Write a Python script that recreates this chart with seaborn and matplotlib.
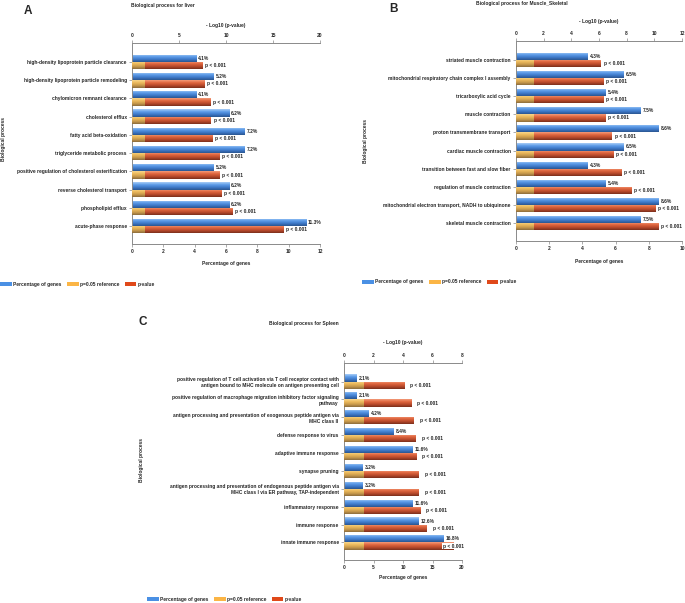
import numpy as np
import pandas as pd
import matplotlib
matplotlib.use("Agg")
import matplotlib.pyplot as plt
import seaborn as sns
from matplotlib.colors import LinearSegmentedColormap
from matplotlib.patches import Patch

sns.set_theme(style="white")
plt.rcParams['font.family'] = ['Liberation Sans', 'DejaVu Sans']
plt.rcParams['font.weight'] = 'bold'

# ---------------- data ----------------
liver_terms = [
    "high-density lipoprotein particle clearance",
    "high-density lipoprotein particle remodeling",
    "chylomicron remnant clearance",
    "cholesterol efflux",
    "fatty acid beta-oxidation",
    "triglyceride metabolic process",
    "positive regulation of cholesterol esterification",
    "reverse cholesterol transport",
    "phospholipid efflux",
    "acute-phase response",
]
liver_pct = [4.1, 5.2, 4.1, 6.2, 7.2, 7.2, 5.2, 6.2, 6.2, 11.3]
liver_logp = [7.48, 7.66, 8.37, 8.40, 8.54, 9.26, 9.26, 9.54, 10.67, 16.10]
liver_plabels = ["p < 0.001"] * 10
liver_pct_ticks = [0, 2, 4, 6, 8, 10, 12]
liver_logp_ticks = [0, 5, 10, 15, 20]

muscle_terms = [
    "striated muscle contraction",
    "mitochondrial respiratory chain complex I assembly",
    "tricarboxylic acid cycle",
    "muscle contraction",
    "proton transmembrane transport",
    "cardiac muscle contraction",
    "transition between fast and slow fiber",
    "regulation of muscle contraction",
    "mitochondrial electron transport, NADH to ubiquinone",
    "skeletal muscle contraction",
]
muscle_pct = [4.3, 6.5, 5.4, 7.5, 8.6, 6.5, 4.3, 5.4, 8.6, 7.5]
muscle_logp = [6.14, 6.29, 6.34, 6.48, 6.93, 7.03, 7.60, 8.35, 10.10, 10.27]
muscle_plabels = ["p < 0.001"] * 10
muscle_pct_ticks = [0, 2, 4, 6, 8, 10]
muscle_logp_ticks = [0, 2, 4, 6, 8, 10, 12]

spleen_terms = [
    "positive regulation of T cell activation via T cell receptor contact with\nantigen bound to MHC molecule on antigen presenting cell",
    "positive regulation of macrophage migration inhibitory factor signaling\npathway",
    "antigen processing and presentation of exogenous peptide antigen via\nMHC class II",
    "defense response to virus",
    "adaptive immune response",
    "synapse pruning",
    "antigen processing and presentation of endogenous peptide antigen via\nMHC class I via ER pathway, TAP-independent",
    "inflammatory response",
    "immune response",
    "innate immune response",
]
spleen_pct = [2.1, 2.1, 4.2, 8.4, 11.6, 3.2, 3.2, 11.6, 12.6, 16.8]
spleen_logp = [4.07, 4.55, 4.73, 4.87, 4.89, 5.07, 5.07, 5.16, 5.62, 7.43]
spleen_plabels = ["p < 0.001"] * 10
spleen_pct_ticks = [0, 5, 10, 15, 20]
spleen_logp_ticks = [0, 2, 4, 6, 8]

ref_logp = -np.log10(0.05)  # p = 0.05 reference

legend_labels = ["Percentage of genes", "p=0.05 reference", "p-value"]

# ---------------- style ----------------
W, H, DPI = 685, 603, 100
FS = 3.5
GRAY = "#8a8a8a"
blue_cmap = LinearSegmentedColormap.from_list("b", ["#a9cdf7", "#5d9ce8", "#3d78c8", "#2a558f"])
red_cmap = LinearSegmentedColormap.from_list("r", ["#f39b7a", "#e0663f", "#b94a2b", "#7a2e1c"])
yel_cmap = LinearSegmentedColormap.from_list("y", ["#f9d78e", "#ecba5c", "#c99a4c", "#8c6c3c"])
leg_colors = ["#4a90e4", "#fbb545", "#e0491a"]

fig = plt.figure(figsize=(W / DPI, H / DPI), dpi=DPI)
fig.patch.set_facecolor("white")

grad = np.linspace(0, 1, 64).reshape(-1, 1)


def fx(px):
    return px / W


def fy(py):
    return 1 - py / H


def shade(axis, patches, cmap, z):
    for p in patches:
        p.set_zorder(z)
        x, w, y, h = p.get_x(), p.get_width(), p.get_y(), p.get_height()
        im = axis.imshow(grad, cmap=cmap, aspect="auto", origin="upper",
                         extent=[x, x + w, y + h, y], zorder=z + 0.05,
                         interpolation="bilinear")
        im.set_clip_path(p)


all_texts = []


def panel(rect, terms, pct, logp, plabels, pct_ticks, logp_ticks,
          title, title_xy, letter, letter_xy, top_lab_y, bot_lab_y,
          ylab_xy, legend_xy, poff=2.0):
    x0, y0, x1, y1 = rect
    ax = fig.add_axes([fx(x0), fy(y1), (x1 - x0) / W, (y1 - y0) / H])
    ax2 = ax.twiny()
    n = len(terms)
    pos = np.arange(n)
    df_pct = pd.DataFrame({"pos": pos - 0.2, "value": pct})
    df_p = pd.DataFrame({"pos": pos + 0.2, "value": logp, "ref": [ref_logp] * n})

    sns.barplot(data=df_pct, x="value", y="pos", orient="y", native_scale=True,
                width=0.4, color=leg_colors[0], saturation=1, errorbar=None,
                ax=ax, linewidth=0)
    sns.barplot(data=df_p, x="value", y="pos", orient="y", native_scale=True,
                width=0.4, color=leg_colors[2], saturation=1, errorbar=None,
                ax=ax2, linewidth=0)
    nred = len(ax2.patches)
    sns.barplot(data=df_p, x="ref", y="pos", orient="y", native_scale=True,
                width=0.4, color=leg_colors[1], saturation=1, errorbar=None,
                ax=ax2, linewidth=0)
    shade(ax, list(ax.patches), blue_cmap, 1.0)
    shade(ax2, list(ax2.patches)[:nred], red_cmap, 1.0)
    shade(ax2, list(ax2.patches)[nred:], yel_cmap, 1.5)

    ax.set_xlim(pct_ticks[0], pct_ticks[-1])
    ax2.set_xlim(logp_ticks[0], logp_ticks[-1])
    ax.set_ylim(n - 0.02, -1.04)

    # ticks
    ax.set_xticks(pct_ticks)
    ax.set_xticklabels([str(t) for t in pct_ticks])
    ax2.set_xticks(logp_ticks)
    ax2.set_xticklabels([str(t) for t in logp_ticks])
    ax.set_yticks(pos)
    ax.set_yticklabels(terms)
    for a in (ax, ax2):
        a.grid(False)
        a.tick_params(axis="both", labelsize=FS, length=2.2, width=0.5,
                      color=GRAY, pad=1.6, direction="out")
        for s in a.spines.values():
            s.set_visible(False)
            s.set_color(GRAY)
            s.set_linewidth(0.7)
    ax.tick_params(axis="x", bottom=True, top=False)
    ax.tick_params(axis="y", left=True, right=False)
    ax2.tick_params(axis="x", top=True, bottom=False)
    ax.spines["left"].set_visible(True)
    ax.spines["bottom"].set_visible(True)
    ax2.spines["top"].set_visible(True)
    for lab in ax.get_xticklabels() + ax.get_yticklabels() + ax2.get_xticklabels():
        lab.set_fontweight("bold")
    ax.patch.set_alpha(0)

    # axis labels
    ax.set_xlabel("Percentage of genes", fontsize=FS, fontweight="bold", va="center")
    ax.xaxis.set_label_coords(0.5, (y1 - bot_lab_y) / (y1 - y0))
    ax2.set_xlabel("- Log10 (p-value)", fontsize=FS, fontweight="bold", va="center")
    ax2.xaxis.set_label_coords(0.5, (y1 - top_lab_y) / (y1 - y0))
    ax.set_ylabel("Biological process", fontsize=FS, fontweight="bold", va="center")
    ax.yaxis.set_label_coords((ylab_xy[0] - x0) / (x1 - x0), (y1 - ylab_xy[1]) / (y1 - y0))

    # value labels
    bb = dict(boxstyle="square,pad=0.15", fc="white", ec="none")
    for i in range(n):
        t1 = ax.annotate(f"{pct[i]:.1f}%", xy=(pct[i], pos[i] - 0.2), xytext=(1.5, 0),
                         textcoords="offset points", ha="left", va="center",
                         fontsize=FS, fontweight="bold", bbox=bb, zorder=5,
                         annotation_clip=False)
        t2 = ax2.annotate(plabels[i], xy=(logp[i], pos[i] + 0.2), xytext=(poff, 0),
                          textcoords="offset points", ha="left", va="center",
                          fontsize=FS, fontweight="bold", bbox=bb, zorder=5,
                          annotation_clip=False)
        all_texts.append((ax, t1))
        all_texts.append((ax2, t2))

    fig.text(fx(title_xy[0]), fy(title_xy[1]), title, fontsize=FS, fontweight="bold",
             ha="center", va="center")
    fig.text(fx(letter_xy[0]), fy(letter_xy[1]), letter, fontsize=8.5, fontweight="bold",
             ha="center", va="center")

    handles = [Patch(facecolor=c, edgecolor="none", label=l)
               for c, l in zip(leg_colors, legend_labels)]
    fig.legend(handles=handles, loc="center left",
               bbox_to_anchor=(fx(legend_xy[0]), fy(legend_xy[1])),
               ncol=3, frameon=False, prop={"size": FS, "weight": "bold"},
               handlelength=2.4, handleheight=1.1, handletextpad=0.3,
               columnspacing=1.1, borderpad=0, borderaxespad=0)


panel((132, 43, 320, 244), liver_terms, liver_pct, liver_logp, liver_plabels,
      liver_pct_ticks, liver_logp_ticks, "Biological process for liver", (163, 5),
      "A", (28, 11), 25, 264, (4, 139), (0, 284))
panel((516, 41, 682, 241), muscle_terms, muscle_pct, muscle_logp, muscle_plabels,
      muscle_pct_ticks, muscle_logp_ticks, "Biological process for Muscle_Skeletal",
      (522, 3), "B", (393, 8.5), 21, 261, (365, 141), (362, 282))
panel((344, 363, 462, 560), spleen_terms, spleen_pct, spleen_logp, spleen_plabels,
      spleen_pct_ticks, spleen_logp_ticks, "Biological process for Spleen",
      (304, 324), "C", (143, 322.5), 343, 578, (142, 460), (147, 599), poff=4.5)

# keep value labels inside the plotting area
fig.canvas.draw()
r = fig.canvas.get_renderer()
for a, t in all_texts:
    tb = t.get_window_extent(r)
    ab = a.get_window_extent(r)
    over = tb.x1 - (ab.x1 + 1.5)
    if over > 0:
        ox, oy = t.xyann
        t.xyann = (ox - over * 72 / DPI, oy)

fig.savefig("out.png", dpi=DPI, facecolor="white")
